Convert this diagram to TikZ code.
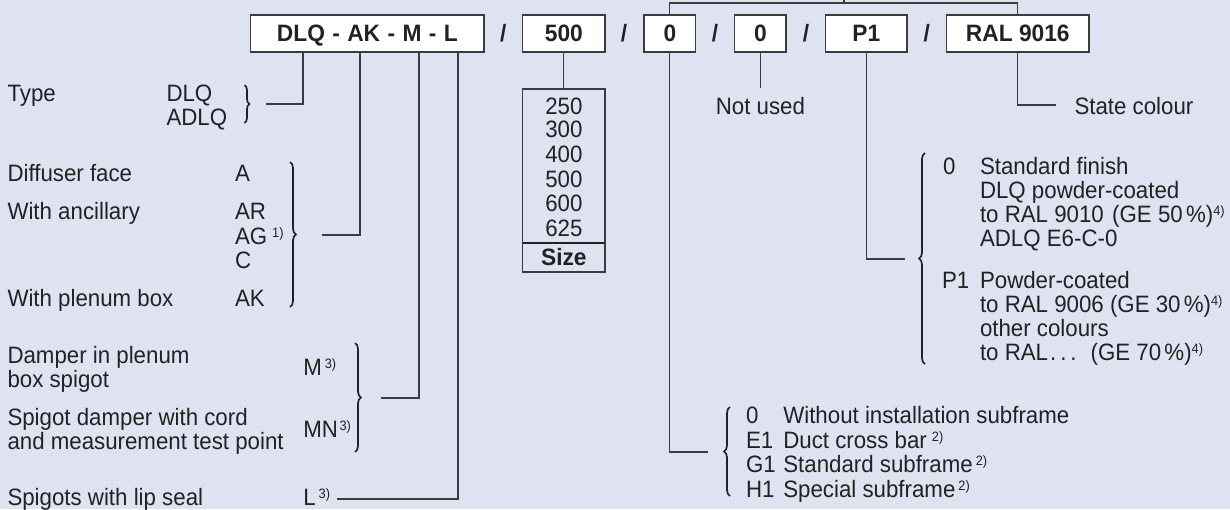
\documentclass[tikz,border=0pt]{standalone}
\usepackage{fontspec}
\setmainfont{Liberation Sans}[FakeStretch=0.94]
\newfontfamily\bxfont{Liberation Sans}[FakeStretch=0.96]
\usetikzlibrary{decorations.pathreplacing}
\definecolor{bg}{RGB}{223,227,241}
\definecolor{ink}{RGB}{34,34,34}
\definecolor{ln}{RGB}{60,60,60}
\newcommand{\fn}[1]{\raisebox{3.5pt}{\fontsize{6.8}{7}\selectfont #1}}
\begin{document}
\begin{tikzpicture}[x=0.5pt,y=-0.5pt,
  every node/.style={inner sep=0pt,outer sep=0pt,text=ink,font=\fontsize{11.85}{12}\selectfont},
  lbl/.style={anchor=base west},
  ctr/.style={anchor=base},
  codebox/.style={draw=ln,fill=white,line width=0.6pt,minimum height=18.5pt,text height=8.3pt,text depth=0pt,font={\bxfont\bfseries\fontsize{11.85}{12}\selectfont}},
  slash/.style={text height=8.3pt,text depth=0pt,font={\bxfont\bfseries\fontsize{11.85}{12}\selectfont}},
  conn/.style={draw=ln,line width=0.6pt},
  brc/.style={draw=ink,line width=0.85pt,decorate,decoration={brace,amplitude=3pt}},
  brcs/.style={draw=ink,line width=0.85pt,decorate,decoration={brace,amplitude=2.5pt}},
]
\fill[bg] (0,0) rectangle (1230,509);
\useasboundingbox (0,0) rectangle (1230,509);

% code boxes
\node[codebox,minimum width=116.65pt] (b1) at (367.35,33.5) {\spaceskip=3.7pt DLQ - AK - M - L};
\node[codebox,minimum width=41.15pt]  (b2) at (563.85,33.5) {500};
\node[codebox,minimum width=25.85pt]  (b3) at (669.85,33.5) {0};
\node[codebox,minimum width=25.65pt]  (b4) at (760.35,33.5) {0};
\node[codebox,minimum width=40.65pt]  (b5) at (866.35,33.5) {P1};
\node[codebox,minimum width=71.2pt]   (b6) at (1017.8,33.5) {RAL 9016};
\node[slash] (s1) at (503.4,33.5) {/};
\node[slash] (s2) at (624,33.5) {/};
\node[slash] (s3) at (715,33.5) {/};
\node[slash] (s4) at (805.9,33.5) {/};
\node[slash] (s5) at (926.8,33.5) {/};

% top bracket
\coordinate (tTop) at (844,3);
\coordinate (tTopEnd) at (844,-8);
\draw[conn] (b3.north) |- (tTop) -| (b6.north);
\draw[conn] (tTop) -- (tTopEnd);

% left column texts
\node[lbl] (tyT) at (7.5,101.5) {Type};
\node[lbl] (tyD) at (166.5,101.5) {DLQ};
\node[lbl] (tyA) at (166.5,125) {ADLQ};
\draw[brcs] (244.5,85) -- (244.5,123);

\node[lbl] (df) at (7.5,181) {Diffuser face};
\node[lbl] (dfA) at (235,181) {A};
\node[lbl] (wa) at (7.5,219.5) {With ancillary};
\node[lbl] (waR) at (235,219.5) {AR};
\node[lbl] (waG) at (235,244) {AG\hspace{2.5pt}\fn{1)}};
\node[lbl] (waC) at (235,268) {C};
\node[lbl] (wp) at (7.5,306.5) {With plenum box};
\node[lbl] (wpK) at (235,306.5) {AK};
\draw[brc] (290,162) -- (290,307);

\node[lbl] (dm1) at (7.5,363.3) {Damper in plenum};
\node[lbl] (dm2) at (7.5,387) {box spigot};
\node[lbl] (dmM) at (303.3,375.7) {M\hspace{1.5pt}\fn{3)}};
\node[lbl] (sd1) at (7.5,425) {Spigot damper with cord};
\node[lbl] (sd2) at (7.5,449) {and measurement test point};
\node[lbl] (sdM) at (303.3,437.7) {MN\hspace{0.8pt}\fn{3)}};
\draw[brc] (355,343) -- (355,452);
\node[lbl] (lp) at (7.5,505.5) {Spigots with lip seal};
\node[lbl] (lpL) at (303.3,505.5) {L\hspace{1.5pt}\fn{3)}};

% connectors from first box
\coordinate (tType) at (266,104);
\coordinate (tAnc) at (322,235);
\coordinate (tM) at (381,398);
\coordinate (tL) at (337,499);
\draw[conn] ([xshift=26.15pt]b1.south west) |- (tType);
\draw[conn] ([xshift=54.65pt]b1.south west) |- (tAnc);
\draw[conn] ([xshift=84.15pt]b1.south west) |- (tM);
\draw[conn] ([xshift=103.65pt]b1.south west) |- (tL);

% size box
\node[draw=ln,line width=0.6pt,minimum width=41.15pt,minimum height=91.5pt] (sz) at (563.85,180.5) {};
\draw[conn] (b2.south) -- (sz.north);
\node[ctr] (n250) at (563.85,114.5) {250};
\node[ctr] (n300) at (563.85,137.5) {300};
\node[ctr] (n400) at (563.85,162.5) {400};
\node[ctr] (n500) at (563.85,187.5) {500};
\node[ctr] (n600) at (563.85,211.5) {600};
\node[ctr] (n625) at (563.85,236.5) {625};
\coordinate (thk) at (0,243);
\draw[draw=ink,line width=1.4pt] (sz.west |- thk) -- (sz.east |- thk);
\node[ctr,font={\bxfont\bfseries\fontsize{11.85}{12}\selectfont}] (nsz) at (563.85,265.5) {Size};

% not used
\node[ctr] (nu) at (760.35,114) {Not used};
\draw[conn] (b4.south) -- ([yshift=4.3pt]nu.north);

% state colour
\node[lbl] (sc) at (1074.5,114) {State colour};
\coordinate (tSc) at (1056,105);
\draw[conn] (b6.south) |- (tSc);

% finish list
\node[lbl] (f0) at (943,174) {0};
\node[lbl] (f01) at (980,174) {Standard finish};
\node[lbl] (f02) at (980,198) {DLQ powder-coated};
\node[lbl] (f03) at (980,222) {to RAL 9010\hspace{4.2pt}(GE 50\kern1.6pt\%)\fn{4)}};
\node[lbl] (f04) at (980,246.5) {ADLQ E6-C-0};
\node[lbl] (fP) at (942,288) {P1};
\node[lbl] (fP1) at (980,288) {Powder-coated};
\node[lbl] (fP2) at (980,312) {to RAL 9006 (GE 30\kern1.6pt\%)\fn{4)}};
\node[lbl] (fP3) at (980,336) {other colours};
\node[lbl] (fP4) at (980,360) {to RAL\kern1pt.\kern2pt.\kern2pt.\hspace{7pt}(GE 70\kern1.6pt\%)\fn{4)}};
\draw[brc] (925,364) -- (925,153);
\coordinate (tFin) at (905,259);
\draw[conn] (b5.south) |- (tFin);

% subframe list
\node[lbl] (u0) at (746,423.5) {0};
\node[lbl] (u01) at (783.3,423.5) {Without installation subframe};
\node[lbl] (uE) at (746,448) {E1};
\node[lbl] (uE1) at (783.3,448) {Duct cross bar\hspace{2.5pt}\fn{2)}};
\node[lbl] (uG) at (746,472.5) {G1};
\node[lbl] (uG1) at (783.3,472.5) {Standard subframe\hspace{1.5pt}\fn{2)}};
\node[lbl] (uH) at (746,497) {H1};
\node[lbl] (uH1) at (783.3,497) {Special subframe\hspace{1.5pt}\fn{2)}};
\draw[brc] (730,496) -- (730,407);
\coordinate (tSub) at (708,452);
\draw[conn] (b3.south) |- (tSub);
\end{tikzpicture}
\end{document}
